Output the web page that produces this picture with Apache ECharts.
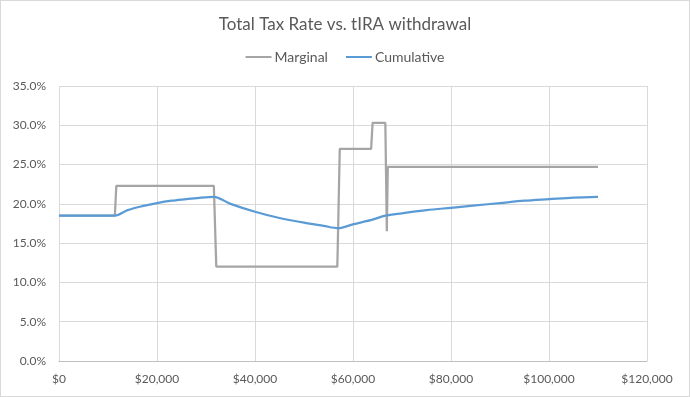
<!DOCTYPE html>
<html>
<head>
<meta charset="utf-8">
<title>Total Tax Rate vs. tIRA withdrawal</title>
<script src="https://cdn.jsdelivr.net/npm/echarts@6/dist/echarts.min.js"></script>
<style>
  html, body { margin: 0; padding: 0; background: #fff; }
  #wrap { position: relative; width: 690px; height: 397px; }
  #chart { width: 690px; height: 397px; }
  #frame {
    position: absolute; left: 0; top: 0;
    width: 690px; height: 397px;
    box-sizing: border-box;
    border: 1px solid #d9d9d9;
    pointer-events: none;
  }
</style>
</head>
<body>
<div id="wrap">
  <div id="chart"></div>
  <div id="frame"></div>
</div>
<script>
// withdrawal amount ($) and tax rate (%)
var marginalX = [0, 11400, 11700, 31600, 32100, 56800, 57300, 63700, 64000, 66600, 66900, 67100, 110000];
var marginalY = [18.5, 18.5, 22.3, 22.3, 12.0, 12.0, 27.0, 27.0, 30.3, 30.3, 16.5, 24.7, 24.7];

var cumulativeX = [0, 11400, 14000, 17000, 20000, 23000, 26000, 29000, 31600, 35000, 40000, 45000, 50000,
                   54000, 57000, 60000, 64000, 66600, 70000, 75000, 80000, 85000, 90000, 95000, 100000, 105000, 110000];
var cumulativeY = [18.5, 18.5, 19.2, 19.7, 20.1, 20.4, 20.6, 20.8, 20.9, 20.0, 19.0, 18.2, 17.6,
                   17.2, 16.9, 17.4, 18.0, 18.5, 18.8, 19.2, 19.5, 19.8, 20.1, 20.4, 20.6, 20.8, 20.9];

function pairs(xs, ys) {
  var out = [];
  for (var i = 0; i < xs.length; i++) out.push([xs[i], ys[i]]);
  return out;
}

var font = 'Lato, "Open Sans", sans-serif';
var chart = echarts.init(document.getElementById('chart'));

chart.setOption({
  animation: false,
  title: {
    text: 'Total Tax Rate vs. tIRA withdrawal',
    left: 'center',
    top: 11,
    textStyle: { fontFamily: font, fontSize: 17, fontWeight: 'normal', color: '#595959' }
  },
  legend: {
    top: 45,
    left: 'center',
    icon: 'rect',
    itemWidth: 26,
    itemHeight: 2,
    itemGap: 18,
    textStyle: { fontFamily: font, fontSize: 14, color: '#595959', padding: [0, 0, 0, -2] },
    data: ['Marginal', 'Cumulative']
  },
  grid: { left: 59, right: 43, top: 86, bottom: 36, containLabel: false },
  xAxis: {
    type: 'value',
    min: 0,
    max: 120000,
    interval: 20000,
    axisLine: { show: true, lineStyle: { color: '#bfbfbf' } },
    axisTick: { show: false },
    splitLine: { show: true, lineStyle: { color: '#d9d9d9' } },
    axisLabel: {
      fontFamily: font, fontSize: 12, color: '#595959', margin: 12,
      formatter: function (v) { return '$' + v.toLocaleString('en-US'); }
    }
  },
  yAxis: {
    type: 'value',
    min: 0,
    max: 35,
    interval: 5,
    axisLine: { show: false },
    axisTick: { show: false },
    splitLine: { show: true, lineStyle: { color: '#d9d9d9' } },
    axisLabel: {
      fontFamily: font, fontSize: 12, color: '#595959', margin: 13,
      formatter: function (v) { return v.toFixed(1) + '%'; }
    }
  },
  series: [
    {
      name: 'Marginal',
      type: 'line',
      showSymbol: false,
      symbol: 'none',
      data: pairs(marginalX, marginalY),
      itemStyle: { color: '#a5a5a5' },
      lineStyle: { color: '#a5a5a5', width: 2.25 }
    },
    {
      name: 'Cumulative',
      type: 'line',
      showSymbol: false,
      symbol: 'none',
      smooth: 0.3,
      data: pairs(cumulativeX, cumulativeY),
      itemStyle: { color: '#5b9bd5' },
      lineStyle: { color: '#5b9bd5', width: 2.25 }
    }
  ]
});
</script>
</body>
</html>
